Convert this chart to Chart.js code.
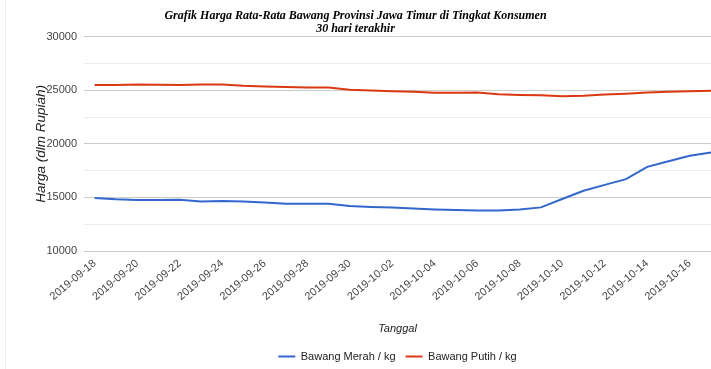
<!DOCTYPE html>
<html>
<head>
<meta charset="utf-8">
<script src="https://cdn.jsdelivr.net/npm/chart.js@4"></script>
<style>
  body { margin: 0; background: #fff; }
</style>
</head>
<body>
<canvas id="myChart" width="711" height="369"></canvas>
<script>
const dates = ['2019-09-18', '2019-09-19', '2019-09-20', '2019-09-21', '2019-09-22', '2019-09-23',
  '2019-09-24', '2019-09-25', '2019-09-26', '2019-09-27', '2019-09-28', '2019-09-29',
  '2019-09-30', '2019-10-01', '2019-10-02', '2019-10-03', '2019-10-04', '2019-10-05',
  '2019-10-06', '2019-10-07', '2019-10-08', '2019-10-09', '2019-10-10', '2019-10-11',
  '2019-10-12', '2019-10-13', '2019-10-14', '2019-10-15', '2019-10-16', '2019-10-17'];

const bawangMerah = [14950, 14820, 14760, 14760, 14790, 14620, 14660, 14620, 14520, 14420,
  14400, 14400, 14200, 14110, 14060, 13960, 13880, 13830, 13780, 13770,
  13880, 14070, 14850, 15620, 16170, 16710, 17850, 18380, 18880, 19190];

const bawangPutih = [25490, 25500, 25540, 25520, 25500, 25530, 25530, 25420, 25360, 25310,
  25260, 25260, 25050, 24980, 24900, 24860, 24780, 24760, 24800, 24620,
  24560, 24530, 24450, 24480, 24600, 24680, 24800, 24870, 24900, 24950];

const yTicks = [10000, 15000, 20000, 25000, 30000];

const ctx = document.getElementById('myChart').getContext('2d');
const sans = "'Liberation Sans', Arial, sans-serif";

// faint frame line on the left like the original screenshot
const leftEdge = {
  id: 'leftEdge',
  beforeDraw(chart) {
    const c = chart.ctx;
    c.save();
    c.strokeStyle = '#ececec';
    c.lineWidth = 1;
    c.beginPath();
    c.moveTo(5.5, 0);
    c.lineTo(5.5, chart.height);
    c.stroke();
    c.restore();
  }
};

const toPoints = arr => arr.map((v, i) => ({ x: i, y: v }));

const myChart = new Chart(ctx, {
  type: 'line',
  data: {
    datasets: [{
      label: 'Bawang Merah / kg',
      data: toPoints(bawangMerah),
      borderColor: '#3366cc',
      backgroundColor: '#3366cc',
      borderWidth: 2,
      pointRadius: 0,
      tension: 0
    }, {
      label: 'Bawang Putih / kg',
      data: toPoints(bawangPutih),
      borderColor: '#dc3912',
      backgroundColor: '#dc3912',
      borderWidth: 2,
      pointRadius: 0,
      tension: 0
    }]
  },
  options: {
    responsive: false,
    animation: false,
    events: [],
    layout: { padding: { top: 0, left: 0, right: 0, bottom: -3 } },
    plugins: {
      title: {
        display: true,
        text: ['Grafik Harga Rata-Rata Bawang Provinsi Jawa Timur di Tingkat Konsumen', '30 hari terakhir'],
        font: { family: "'Liberation Serif', 'Times New Roman', serif", size: 12, weight: 'bold', style: 'italic', lineHeight: 1.05 },
        color: '#000',
        padding: { top: 10, bottom: 1.5 }
      },
      legend: {
        position: 'bottom',
        fullSize: false,
        labels: {
          font: { family: sans, size: 11 },
          color: '#222',
          boxWidth: 17,
          boxHeight: 2,
          padding: 10,
          generateLabels(chart) {
            return chart.data.datasets.map((ds, i) => ({
              text: ds.label,
              fillStyle: ds.borderColor,
              strokeStyle: ds.borderColor,
              lineWidth: 0,
              datasetIndex: i,
              fontColor: '#222'
            }));
          }
        }
      },
      tooltip: { enabled: false }
    },
    scales: {
      x: {
        type: 'linear',
        min: -0.5,
        max: dates.length - 1,
        afterBuildTicks(scale) {
          scale.ticks = dates.map((d, i) => ({ value: i }));
        },
        afterFit(scale) {
          scale.height = 90;
          scale.paddingRight = 0;
          scale.paddingLeft = 0;
        },
        grid: { display: false, drawTicks: false },
        border: { display: false },
        ticks: {
          autoSkip: false,
          minRotation: 40,
          maxRotation: 40,
          padding: 6,
          color: '#444',
          font: { family: sans, size: 11 },
          callback: (v) => (v % 2 === 0 ? dates[v] : '')
        },
        title: {
          display: true,
          text: 'Tanggal',
          color: '#222',
          font: { family: sans, size: 11, style: 'italic' },
          padding: { top: 2, bottom: 5.5 }
        }
      },
      y: {
        min: 10000,
        max: 30000,
        afterBuildTicks(scale) {
          const t = [];
          for (let v = 10000; v <= 30000; v += 2500) t.push({ value: v });
          scale.ticks = t;
        },
        afterFit(scale) {
          scale.width = 84;
        },
        grid: {
          drawTicks: false,
          color: (c) => (yTicks.includes(c.tick.value) ? '#cccccc' : '#ebebeb'),
          lineWidth: 1
        },
        border: { display: false },
        ticks: {
          padding: 7,
          color: '#444',
          font: { family: sans, size: 11 },
          callback: (v) => (yTicks.includes(v) ? String(v) : '')
        },
        title: {
          display: true,
          text: 'Harga (dlm Rupiah)',
          color: '#222',
          font: { family: sans, size: 13.5, style: 'italic' },
          padding: { top: 33, bottom: 0 }
        }
      }
    }
  },
  plugins: [leftEdge]
});
</script>
</body>
</html>
